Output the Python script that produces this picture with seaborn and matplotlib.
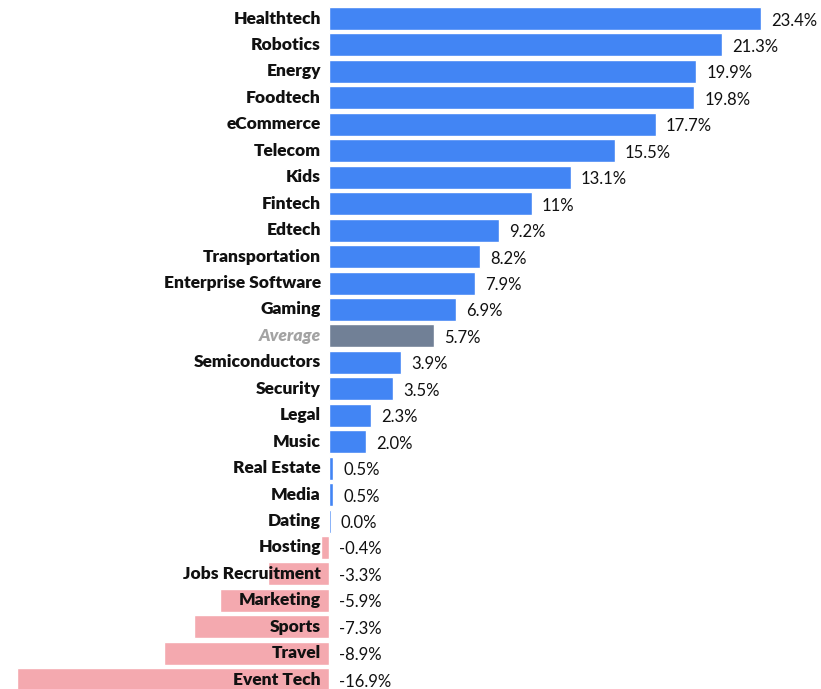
import numpy as np
import matplotlib.pyplot as plt
import pandas as pd
import seaborn as sns

categories = ["Healthtech", "Robotics", "Energy", "Foodtech", "eCommerce", "Telecom",
              "Kids", "Fintech", "Edtech", "Transportation", "Enterprise Software",
              "Gaming", "Average", "Semiconductors", "Security", "Legal", "Music",
              "Real Estate", "Media", "Dating", "Hosting", "Jobs Recruitment",
              "Marketing", "Sports", "Travel", "Event Tech"]
values = [23.4, 21.3, 19.9, 19.8, 17.7, 15.5, 13.1, 11.0, 9.2, 8.2, 7.9, 6.9, 5.7,
          3.9, 3.5, 2.3, 2.0, 0.25, 0.25, 0.12, -0.4, -3.3, -5.9, -7.3, -8.9, -16.9]
value_labels = ["23.4%", "21.3%", "19.9%", "19.8%", "17.7%", "15.5%", "13.1%", "11%",
                "9.2%", "8.2%", "7.9%", "6.9%", "5.7%", "3.9%", "3.5%", "2.3%", "2.0%",
                "0.5%", "0.5%", "0.0%", "-0.4%", "-3.3%", "-5.9%", "-7.3%", "-8.9%",
                "-16.9%"]

BLUE = "#4285f4"
PINK = "#f4a9af"
GREY = "#718096"

df = pd.DataFrame({"category": categories, "value": values})
df["kind"] = np.where(df["category"] == "Average", "avg",
                      np.where(df["value"] < 0, "neg", "pos"))

sns.set_style("white")
plt.rcParams['font.family'] = ['Lato', 'DejaVu Sans']

fig = plt.figure(figsize=(8.21, 6.89), dpi=100)
ax = fig.add_axes([0, 0, 1, 1])

sns.barplot(data=df, x="value", y="category", hue="kind",
            palette={"pos": BLUE, "neg": PINK, "avg": GREY},
            dodge=False, legend=False, width=0.87, saturation=1, ax=ax)

ax.set_xlim(-17.8, 26.65)
ax.set_ylim(25.35, -0.7)
ax.axis("off")

for i, (name, v, lab) in enumerate(zip(categories, values, value_labels)):
    if name == "Average":
        ax.annotate(name, (0, i), xytext=(-8, 0), textcoords="offset pixels",
                    ha="right", va="center", fontsize=12.5, fontweight="heavy",
                    fontstyle="italic", color="#a3a3a3", zorder=5)
    else:
        ax.annotate(name, (0, i), xytext=(-8, 0), textcoords="offset pixels",
                    ha="right", va="center", fontsize=12.5, fontweight="heavy",
                    color="#111111", zorder=5)
    ax.annotate(lab, (max(v, 0), i), xytext=(10, -2), textcoords="offset pixels",
                ha="left", va="center", fontsize=12, color="#111111", zorder=5)

plt.savefig("out.png", dpi=100)
